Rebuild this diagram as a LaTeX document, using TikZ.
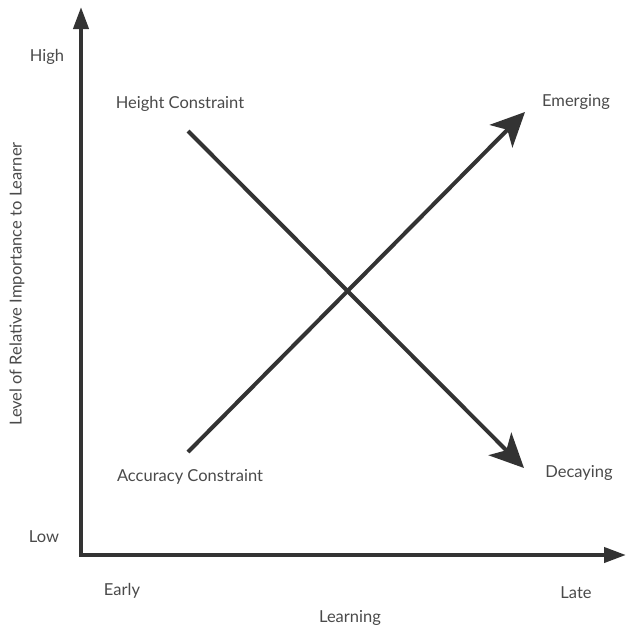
\documentclass[tikz,border=0pt]{standalone}
\usepackage{fontspec}
\setmainfont{Lato}
\usetikzlibrary{arrows.meta}
\definecolor{linec}{HTML}{333333}
\definecolor{textc}{HTML}{4A4A4A}
\begin{document}
\begin{tikzpicture}[x=1pt,y=-1pt,
  lbl/.style={text=textc,font=\fontsize{16.5}{19}\selectfont,inner sep=0pt},
  axisline/.style={draw=linec,line width=4pt,-{Triangle[length=22pt,width=15pt]}},
  trend/.style={draw=linec,line width=4pt,-{Stealth[length=34pt,width=32pt,inset=9pt]}}]
\useasboundingbox (0,0) rectangle (626,633);
\coordinate (o) at (81,555);
\coordinate (ytip) at (81,7);
\coordinate (xtip) at (626,555);
\draw[axisline,line cap=butt] ([yshift=2pt]o) -- (ytip);
\draw[axisline] ([xshift=-2pt]o) -- (xtip);
\coordinate (hs) at (188,131);
\coordinate (he) at (524,468);
\coordinate (as) at (188,452);
\coordinate (ae) at (525,112);
\draw[trend] (hs) -- (he);
\draw[trend] (as) -- (ae);
\node[lbl] (high) at (47,57) {High};
\node[lbl] (low) at (44,537) {Low};
\node[lbl] (hc) at (180,104) {Height Constraint};
\node[lbl] (em) at (576,102) {Emerging};
\node[lbl] (ac) at (190,477) {Accuracy Constraint};
\node[lbl] (de) at (579,473) {Decaying};
\node[lbl] (early) at (122,591) {Early};
\node[lbl] (late) at (576,593) {Late};
\node[lbl] (learn) at (350,618) {Learning};
\node[lbl,rotate=90] (ylab) at (17,284) {Level of Relative Importance to Learner};
\end{tikzpicture}
\end{document}
